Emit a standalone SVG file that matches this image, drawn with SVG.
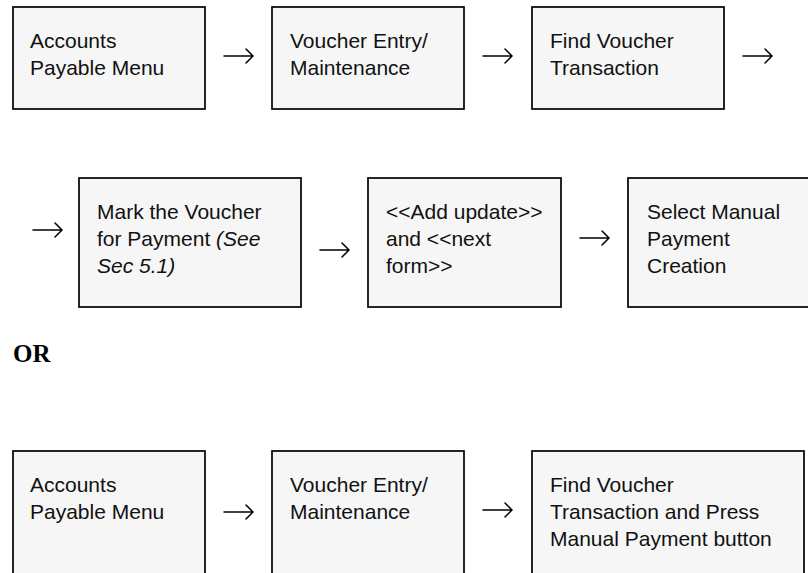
<svg xmlns="http://www.w3.org/2000/svg" width="808" height="573" viewBox="0 0 808 573">
<style>
.box{fill:#f6f6f6;stroke:#000;stroke-width:1.7}
.t{font-family:"Liberation Sans",Arial,sans-serif;font-size:21px;fill:#111}
.i{font-style:italic}
.arr{fill:none;stroke:#000;stroke-width:1.5;stroke-linecap:round;stroke-linejoin:miter}
.or{font-family:"Liberation Serif","Times New Roman",serif;font-weight:bold;font-size:25px;fill:#000}
</style>
<rect width="808" height="573" fill="#fff"/>
<g id="n1"><rect class="box" x="13" y="7" width="192" height="102"/><text class="t" x="30" y="48">Accounts</text><text class="t" x="30" y="75">Payable Menu</text></g>
<g id="n2"><rect class="box" x="272" y="7" width="192" height="102"/><text class="t" x="290" y="48">Voucher Entry/</text><text class="t" x="290" y="75">Maintenance</text></g>
<g id="n3"><rect class="box" x="532" y="7" width="192" height="102"/><text class="t" x="550" y="48">Find Voucher</text><text class="t" x="550" y="75">Transaction</text></g>
<g id="n4"><rect class="box" x="79" y="178" width="222" height="129"/><text class="t" x="97" y="219">Mark the Voucher</text><text class="t" x="97" y="246">for Payment <tspan class="i">(See</tspan></text><text class="t i" x="97" y="273">Sec 5.1)</text></g>
<g id="n5"><rect class="box" x="368" y="178" width="193" height="129"/><text class="t" x="386" y="219">&lt;&lt;Add update&gt;&gt;</text><text class="t" x="386" y="246">and &lt;&lt;next</text><text class="t" x="386" y="273">form&gt;&gt;</text></g>
<g id="n6"><rect class="box" x="628" y="178" width="200" height="129"/><text class="t" x="647" y="219">Select Manual</text><text class="t" x="647" y="246">Payment</text><text class="t" x="647" y="273">Creation</text></g>
<text class="or" x="13" y="362">OR</text>
<g id="n7"><rect class="box" x="13" y="451" width="192" height="140"/><text class="t" x="30" y="492">Accounts</text><text class="t" x="30" y="519">Payable Menu</text></g>
<g id="n8"><rect class="box" x="272" y="451" width="192" height="140"/><text class="t" x="290" y="492">Voucher Entry/</text><text class="t" x="290" y="519">Maintenance</text></g>
<g id="n9"><rect class="box" x="532" y="451" width="272" height="140"/><text class="t" x="550" y="492">Find Voucher</text><text class="t" x="550" y="519">Transaction and Press</text><text class="t" x="550" y="546">Manual Payment button</text></g>
<g id="connectors" class="arr">
<path d="M224 56H253M246 49L253 56L246 63"/>
<path d="M483 56H512M505 49L512 56L505 63"/>
<path d="M743 56H772M765 49L772 56L765 63"/>
<path d="M33 230H62M55 223L62 230L55 237"/>
<path d="M320 250H349M342 243L349 250L342 257"/>
<path d="M580 238H609M602 231L609 238L602 245"/>
<path d="M224 512H253M246 505L253 512L246 519"/>
<path d="M483 510H512M505 503L512 510L505 517"/>
</g>
</svg>
